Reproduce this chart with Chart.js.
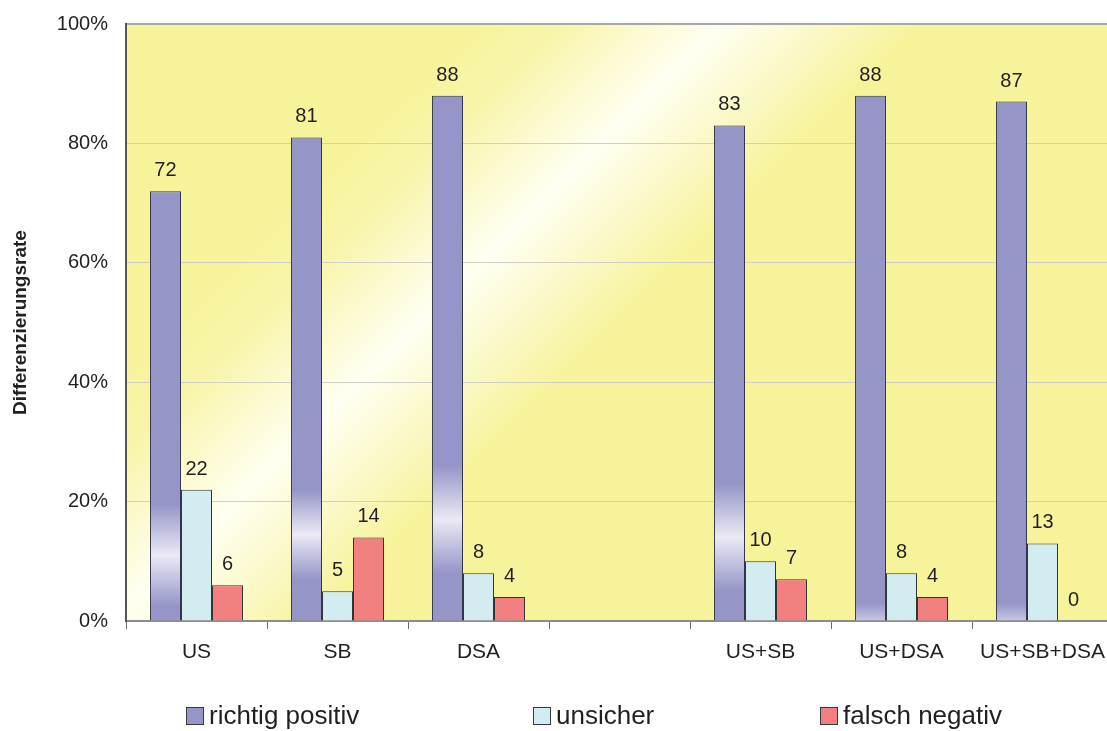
<!DOCTYPE html>
<html>
<head>
<meta charset="utf-8">
<script src="https://cdn.jsdelivr.net/npm/chart.js@4/dist/chart.umd.min.js"></script>
<style>
  html, body { margin: 0; padding: 0; background: #ffffff; overflow: hidden; }
  #wrap { width: 1120px; height: 731px; }
</style>
</head>
<body>
<div id="wrap"><canvas id="c" width="1120" height="731"></canvas></div>
<script>
// Categories (the fourth slot is an intentional gap between single and combined methods)
const categories = ['US', 'SB', 'DSA', '', 'US+SB', 'US+DSA', 'US+SB+DSA'];

// Differentiation rates in percent
const richtigPositiv = [72, 81, 88, null, 83, 88, 87];
const unsicher       = [22, 5, 8, null, 10, 8, 13];
const falschNegativ  = [6, 14, 4, null, 7, 4, 0];

const seriesNames = ['richtig positiv', 'unsicher', 'falsch negativ'];
const yTicks = [0, 20, 40, 60, 80, 100];

// Styling
const FONT = '"Liberation Sans", Arial, Helvetica, sans-serif';
const TEXT = '#231f20';
const PURPLE = '#9595c8';
const PURPLE_LIGHT = '#ebe9f5';
const CYAN = '#d3ecf2';
const RED = '#f28080';
const YELLOW = '#f7f39b';

// light band inside each purple column: centre and half height, in axis units
const bandCenter = [11, 14.5, 17, 0, 14, -2, -2];
const bandHalf   = [8.5, 7.5, 9, 0, 9, 5, 5];

// legend swatch left edges
const legendX = [186, 533, 820];

function purpleFill(ctx) {
  const chart = ctx.chart;
  if (!chart.chartArea || ctx.type !== 'data') return PURPLE;
  const y = chart.scales.y;
  const i = ctx.dataIndex;
  const y0 = y.getPixelForValue(bandCenter[i] + bandHalf[i]);
  const y1 = y.getPixelForValue(bandCenter[i] - bandHalf[i]);
  const g = chart.ctx.createLinearGradient(0, y0, 0, y1);
  g.addColorStop(0, PURPLE);
  g.addColorStop(0.5, PURPLE_LIGHT);
  g.addColorStop(1, PURPLE);
  return g;
}

// Yellow plot background with a diagonal soft glow
const plotBackground = {
  id: 'plotBackground',
  beforeDraw(chart) {
    const { ctx, chartArea: a } = chart;
    const cx = 377, cy = 364, nx = 0.701, ny = 0.713, r = 175;
    const g = ctx.createLinearGradient(cx - r * nx, cy - r * ny, cx + r * nx, cy + r * ny);
    g.addColorStop(0, YELLOW);
    g.addColorStop(0.18, '#f8f5ab');
    g.addColorStop(0.5, '#fffff2');
    g.addColorStop(0.72, '#faf8c4');
    g.addColorStop(0.9, YELLOW);
    g.addColorStop(1, YELLOW);
    ctx.save();
    ctx.fillStyle = g;
    ctx.fillRect(a.left, a.top, a.right - a.left, a.bottom - a.top);
    ctx.restore();
  }
};

// Value labels above each column
const valueLabels = {
  id: 'valueLabels',
  afterDatasetsDraw(chart) {
    const { ctx } = chart;
    ctx.save();
    ctx.font = '20px ' + FONT;
    ctx.fillStyle = TEXT;
    ctx.textAlign = 'center';
    ctx.textBaseline = 'alphabetic';
    chart.data.datasets.forEach((ds, di) => {
      chart.getDatasetMeta(di).data.forEach((bar, i) => {
        const v = ds.data[i];
        if (v === null || v === undefined) return;
        ctx.fillText(String(Math.round(v)), bar.x, bar.y - 15);
      });
    });
    ctx.restore();
  }
};

// Legend row below the axis
const legendRow = {
  id: 'legendRow',
  afterDraw(chart) {
    const { ctx } = chart;
    ctx.save();
    ctx.font = '26px ' + FONT;
    ctx.textBaseline = 'middle';
    ctx.textAlign = 'left';
    chart.data.datasets.forEach((ds, i) => {
      const x = legendX[i], y = 707;
      ctx.fillStyle = ds.legendColor;
      ctx.fillRect(x + 0.5, y + 0.5, 17, 17);
      ctx.strokeStyle = '#3a3a3a';
      ctx.lineWidth = 1;
      ctx.strokeRect(x + 0.5, y + 0.5, 17, 17);
      ctx.fillStyle = TEXT;
      ctx.fillText(ds.label, x + 23, y + 10);
    });
    ctx.restore();
  }
};

new Chart(document.getElementById('c'), {
  type: 'bar',
  data: {
    labels: categories,
    datasets: [
      { label: seriesNames[0], data: richtigPositiv, backgroundColor: purpleFill, legendColor: PURPLE,
        borderColor: '#33334a', borderWidth: 1 },
      { label: seriesNames[1], data: unsicher, backgroundColor: CYAN, legendColor: CYAN,
        borderColor: '#333333', borderWidth: 1 },
      { label: seriesNames[2], data: falschNegativ, backgroundColor: RED, legendColor: RED,
        borderColor: '#333333', borderWidth: 1 }
    ]
  },
  options: {
    responsive: false,
    animation: false,
    layout: { padding: { top: 24, left: 0, right: 7, bottom: 0 } },
    datasets: { bar: { categoryPercentage: 0.66, barPercentage: 1.0, borderSkipped: 'start' } },
    plugins: { legend: { display: false }, tooltip: { enabled: false } },
    scales: {
      x: {
        offset: true,
        grid: { display: true, offset: true, drawOnChartArea: false, drawTicks: true, tickLength: 8,
                color: '#6a6a6a', lineWidth: 1 },
        border: { display: true, color: '#8c8c8c', width: 2 },
        ticks: { font: { family: FONT, size: 21 }, color: TEXT, padding: 11, maxRotation: 0, autoSkip: false },
        afterFit(scale) { scale.height = 110; scale.paddingLeft = 0; scale.paddingRight = 0; }
      },
      y: {
        min: 0, max: 100,
        afterBuildTicks(scale) { scale.ticks = yTicks.map(v => ({ value: v })); },
        grid: { color: (c) => c.tick && c.tick.value === 100 ? '#a8a8a8' : '#cfcfc8',
                lineWidth: (c) => c.tick && c.tick.value === 100 ? 2 : 1, drawTicks: false },
        border: { display: true, color: '#555555', width: 2 },
        ticks: { font: { family: FONT, size: 20 }, color: TEXT, padding: 18,
                 callback: (v) => v + '%' },
        title: { display: true, text: 'Differenzierungsrate', color: TEXT,
                 font: { family: FONT, size: 19, weight: 'bold' }, padding: { top: 9, bottom: 0 } },
        afterFit(scale) { scale.width = 126; scale.paddingTop = 0; scale.paddingBottom = 0; }
      }
    }
  },
  plugins: [plotBackground, valueLabels, legendRow]
});
</script>
</body>
</html>
